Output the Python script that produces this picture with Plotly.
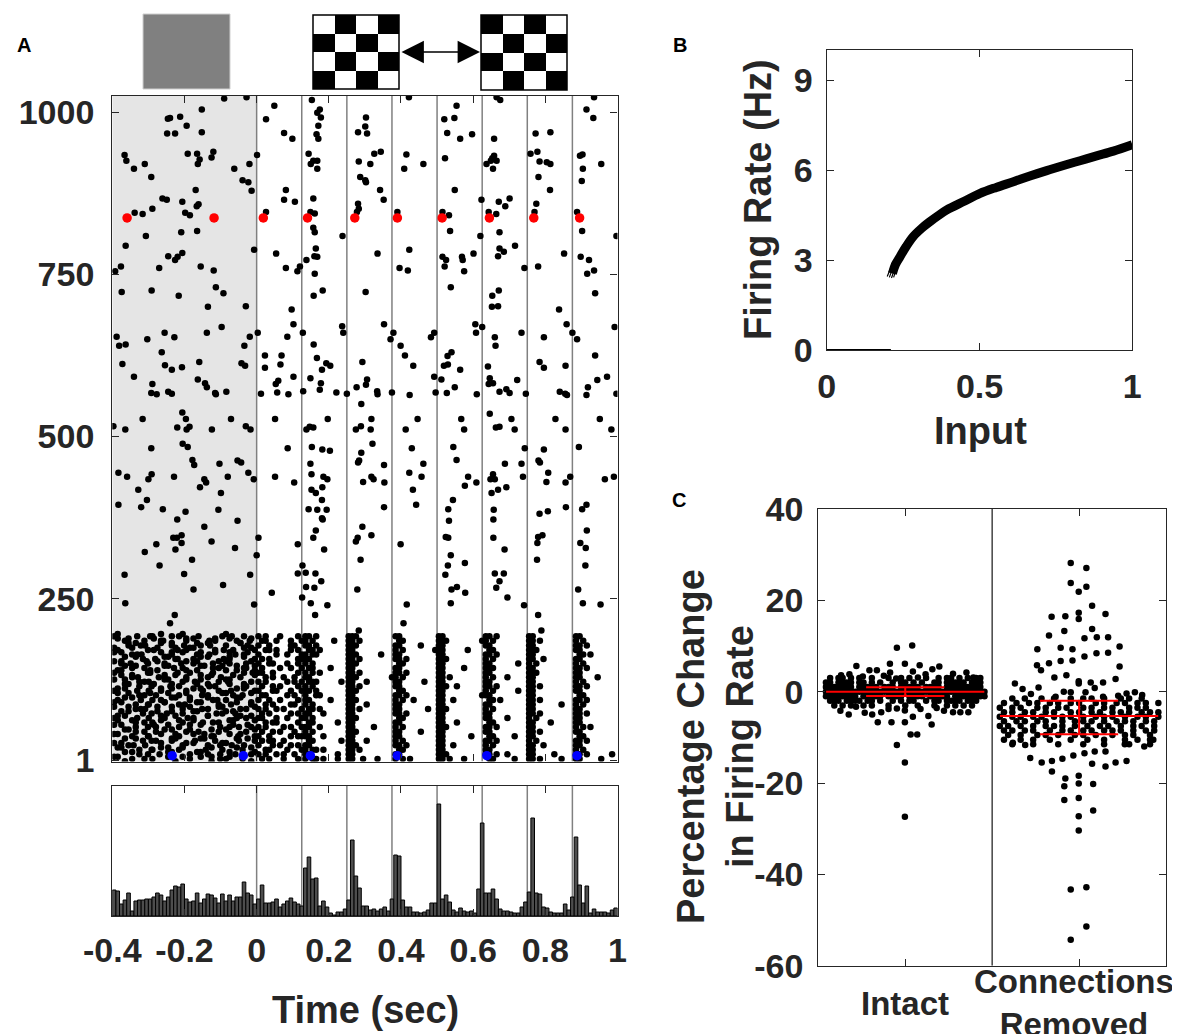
import plotly.graph_objects as go

FIG_W, FIG_H = 1180, 1034
PAGE_OFFSET = 8  # default page margin of the browser, compensated in the layout
FONT = "Liberation Sans, Arial, Helvetica, sans-serif"
INK = "#262626"

# ---------------- Panel A : raster ----------------
TIME_TICKS = [-0.4, -0.2, 0, 0.2, 0.4, 0.6, 0.8, 1.0]
TIME_TICK_TEXT = ["-0.4", "-0.2", "0", "0.2", "0.4", "0.6", "0.8", "1"]
NEURON_TICKS = [1, 250, 500, 750, 1000]
NEURON_TICK_TEXT = ["1", "250", "500", "750", "1000"]
STIM_SWITCH_TIMES = [0, 0.125, 0.25, 0.375, 0.5, 0.625, 0.75, 0.875]
GRAY_PERIOD = [-0.4, 0.0]

# sparse spikes (time s, neuron id) of neurons ~200-1025
SPARSE_SPIKES = [
    (-0.090,1021),(-0.028,1023),(-0.152,1004),(-0.246,990),(-0.240,991),(-0.212,993),(-0.194,979),(-0.248,967),
    (-0.226,967),(-0.152,969),(-0.366,934),(-0.361,925),(-0.340,913),(-0.310,920),(-0.292,900),(-0.191,936),
    (-0.165,936),(-0.158,927),(-0.163,920),(-0.125,930),(-0.120,939),(-0.062,913),(-0.020,920),(0.001,934),
    (-0.039,895),(-0.023,892),(-0.014,879),(-0.169,880),(-0.261,867),(-0.249,865),(-0.206,862),(-0.166,855),
    (-0.161,858),(-0.289,851),(-0.316,843),(-0.338,845),(-0.198,845),(-0.185,841),(-0.307,809),(-0.209,815),
    (-0.165,817),(-0.363,794),(-0.007,788),(-0.245,778),(-0.226,772),(-0.219,777),(-0.206,783),(-0.376,762),
    (-0.392,755),(-0.270,760),(-0.155,762),(-0.119,756),(-0.374,723),(-0.291,725),(-0.216,717),(-0.113,730),
    (-0.092,721),(-0.135,700),(-0.030,701),(-0.097,669),(-0.255,660),(-0.228,653),(-0.138,660),(-0.303,650),
    (-0.388,654),(-0.381,640),(-0.363,642),(-0.019,654),(-0.034,640),(-0.263,630),(-0.372,612),(-0.254,610),
    (-0.235,603),(-0.207,607),(-0.159,615),(-0.042,613),(-0.032,609),(-0.340,592),(-0.289,581),(-0.245,569),
    (-0.235,566),(-0.292,567),(-0.277,565),(-0.163,588),(-0.143,582),(-0.138,576),(-0.115,567),(-0.113,565),
    (-0.084,569),(-0.206,537),(-0.316,527),(-0.196,527),(-0.071,527),
    (0.049,1010),(0.026,989),(0.076,968),(0.099,959),(0.081,880),(0.076,865),(0.106,862),(0.026,846),
    (0.054,782),(0.081,760),(0.113,755),(0.120,762),(0.097,696),(0.102,673),(0.085,654),(0.023,625),
    (0.023,606),(0.069,625),(0.066,611),(0.060,586),(0.053,581),(0.102,592),(0.012,566),(0.057,568),
    (0.088,565),(0.051,527),(0.003,660),
    (0.153,1019),(0.168,999),(0.175,1004),(0.178,992),(0.171,979),(0.166,966),(0.171,959),(0.144,936),
    (0.157,925),(0.150,920),(0.168,925),(0.168,913),(0.157,867),(0.149,846),(0.161,844),(0.157,822),
    (0.161,815),(0.164,790),(0.160,778),(0.168,777),(0.138,772),(0.161,751),(0.183,725),(0.158,717),
    (0.238,809),(0.158,642),(0.167,621),(0.181,603),(0.193,613),(0.204,609),(0.149,590),(0.178,582),
    (0.175,572),(0.129,570),(0.221,568),(0.237,670),(0.240,660),(0.128,660),(0.197,527),
    (0.303,992),(0.301,978),(0.281,969),(0.306,967),(0.326,936),(0.344,939),(0.283,924),(0.315,920),
    (0.287,900),(0.301,895),(0.303,892),(0.342,880),(0.352,865),(0.281,859),(0.283,851),(0.278,846),
    (0.335,782),(0.302,723),(0.353,673),(0.371,650),(0.293,615),(0.306,588),(0.303,580),(0.277,576),
    (0.334,570),(0.335,565),(0.250,566),(0.290,550),(0.318,527),
    (0.422,1023),(0.415,935),(0.409,913),(0.462,920),(0.390,846),(0.423,788),(0.396,760),(0.419,756),
    (0.379,660),(0.399,640),(0.411,625),(0.434,609),(0.375,568),(0.424,564),(0.446,527),(0.483,653),
    (0.492,660),(0.492,592),(0.496,568),
    (0.554,1010),(0.520,989),(0.548,991),(0.528,968),(0.564,959),(0.597,966),(0.522,929),(0.549,880),
    (0.515,846),(0.533,841),(0.536,817),(0.515,777),(0.525,772),(0.521,762),(0.569,777),(0.571,772),
    (0.601,782),(0.575,755),(0.538,730),(0.623,865),(0.620,809),(0.606,673),(0.608,660),(0.540,630),
    (0.529,624),(0.519,609),(0.530,611),(0.564,603),(0.512,588),(0.549,576),(0.527,567),(0.610,565),
    (0.567,527),(0.625,669),
    (0.665,1023),(0.675,1019),(0.658,959),(0.658,933),(0.653,929),(0.649,925),(0.665,925),(0.637,920),
    (0.655,913),(0.701,867),(0.689,855),(0.671,862),(0.643,846),(0.664,843),(0.673,815),(0.673,790),
    (0.685,785),(0.669,778),(0.716,794),(0.742,760),(0.671,725),(0.653,717),(0.652,700),(0.669,701),
    (0.660,653),(0.662,640),(0.734,660),(0.641,608),(0.646,590),(0.655,582),(0.643,581),(0.673,569),
    (0.692,573),(0.701,567),(0.722,587),(0.646,535),(0.706,527),(0.746,566),
    (0.773,967),(0.814,969),(0.759,936),(0.778,939),(0.784,924),(0.804,923),(0.814,920),(0.781,900),
    (0.813,880),(0.775,859),(0.770,846),(0.852,782),(0.780,762),(0.838,696),(0.859,673),(0.796,653),
    (0.856,609),(0.784,615),(0.796,606),(0.840,569),(0.855,566),(0.860,564),(0.828,527),(0.875,660),
    (0.935,1023),(0.914,1004),(0.933,991),(0.903,935),(0.896,933),(0.955,920),(0.904,913),(0.901,894),
    (0.888,846),(0.902,817),(0.898,777),(0.921,772),(0.916,751),(0.935,756),(0.938,721),(0.997,809),
    (0.992,669),(0.888,650),(0.938,625),(0.918,576),(0.914,564),(0.971,592),(0.944,587),(0.997,566),
    (0.951,527),
    (-0.397,516),(-0.364,511),(-0.220,514),(-0.194,511),(-0.186,515),(-0.124,511),(-0.030,516),(-0.017,511),
    (-0.292,482),(-0.205,489),(-0.191,484),(-0.178,464),(-0.173,456),(-0.103,458),(-0.053,463),(-0.043,460),
    (-0.383,444),(-0.359,438),(-0.300,434),(-0.291,442),(-0.229,438),(-0.145,434),(-0.140,429),(-0.157,422),
    (-0.080,438),(-0.023,444),(-0.008,434),(-0.328,418),(-0.304,402),(-0.099,413),(-0.383,395),(-0.320,391),
    (-0.260,388),(-0.197,384),(-0.106,387),(-0.220,372),(-0.053,370),(-0.145,361),(-0.231,344),(-0.221,344),
    (-0.208,348),(-0.208,336),(-0.278,334),(-0.310,322),(-0.225,326),(-0.125,338),(-0.060,328),(-0.179,310),
    (-0.269,301),(-0.366,287),(-0.201,288),(-0.018,287),(-0.093,271),(-0.175,264),(-0.364,243),(-0.007,241),
    (-0.227,225),(-0.240,212),
    (0.051,438),(0.086,482),(0.104,429),(0.005,344),(0.000,317),(0.114,334),(0.127,301),(0.114,289),
    (0.042,259),(0.126,252),
    (0.138,511),(0.147,515),(0.157,514),(0.153,484),(0.182,480),(0.203,478),(0.149,458),(0.152,442),
    (0.185,438),(0.196,434),(0.152,418),(0.164,413),(0.182,422),(0.181,402),(0.144,388),(0.168,387),
    (0.194,387),(0.181,374),(0.183,372),(0.164,355),(0.157,344),(0.187,326),(0.136,290),(0.163,289),
    (0.179,277),(0.137,268),(0.160,267),(0.150,243),(0.196,240),(0.162,225),
    (0.275,511),(0.289,516),(0.316,511),(0.321,489),(0.290,475),(0.284,463),(0.281,460),(0.353,456),
    (0.295,430),(0.318,438),(0.324,434),(0.354,429),(0.353,391),(0.293,361),(0.318,348),(0.280,344),
    (0.275,338),(0.288,310),(0.279,264),(0.283,201),
    (0.413,511),(0.430,482),(0.462,458),(0.423,444),(0.457,438),(0.433,418),(0.442,395),(0.399,334),
    (0.416,241),(0.407,212),
    (0.575,511),(0.545,484),(0.554,464),(0.586,438),(0.609,429),(0.577,424),(0.544,402),(0.531,388),
    (0.533,370),(0.524,345),(0.531,344),(0.538,317),(0.530,301),(0.577,305),(0.523,287),(0.540,264),
    (0.555,268),(0.578,259),(0.538,243),
    (0.663,514),(0.673,515),(0.715,511),(0.743,482),(0.688,458),(0.734,458),(0.655,442),(0.648,434),
    (0.660,434),(0.738,438),(0.669,418),(0.692,422),(0.651,413),(0.657,387),(0.656,372),(0.656,344),
    (0.687,326),(0.660,289),(0.685,289),(0.673,277),(0.664,267),(0.695,252),(0.741,240),
    (0.796,480),(0.781,463),(0.785,460),(0.808,444),(0.803,430),(0.856,429),(0.856,511),(0.784,381),
    (0.807,385),(0.857,391),(0.780,345),(0.792,348),(0.778,336),(0.777,310),(0.780,225),(0.789,201),
    (0.893,484),(0.869,438),(0.965,434),(0.990,438),(0.902,388),(0.914,395),(0.915,355),(0.897,336),
    (0.912,328),(0.911,301),(0.891,264),(0.904,243),(0.953,241),(0.983,511),
]

RED_NEURON = 837
RED_SPIKE_TIMES = [-0.359, -0.118, 0.0185, 0.141, 0.272, 0.390, 0.514, 0.645, 0.768, 0.895]
BLUE_NEURON = 8
BLUE_SPIKE_TIMES = [-0.234, -0.037, 0.149, 0.390, 0.638, 0.888]

# dense population (neurons 1-195): occupancy map, one row per neuron band,
# one character per 10 ms bin. '#' spike at bin centre; u/d = spike a half band
# higher/lower, l/r = spike slightly earlier/later. Segments between stimulus switches.
DENSE_T0 = -0.4
DENSE_BIN = 0.01
DENSE_GLYPH_OFFSET = {"#": (0.0, 0.0), "u": (0.0, 3.5), "d": (0.0, -3.5),
                      "l": (-0.004, 0.0), "r": (0.004, 0.0)}
DENSE_ROW_NEURONS = [192, 185, 178, 171, 164, 157, 150, 143, 136, 129, 122, 115, 108, 101,
                     94, 87, 80, 73, 66, 59, 52, 45, 38, 31, 24, 17, 10, 3]
DENSE_SEG_START_BINS = [0, 40, 53, 65, 78, 90, 103, 115, 128]
DENSE_SEG_WIDTHS = [40, 13, 12, 13, 12, 13, 12, 13, 12]
DENSE_ROWS = [
    "#u..d.r...#l.u..#.#ud..r....d.#u.l..#.d.|#.#...#....#.|##.#........|###..........|##..........|##...........|##.#........|##...........|##..........",
    ".u.#d...r..u.#l.d...#.ud..r.#...u.#d..l.|.##..#...#..#|#.#.....#...|##.#.........|.##.........|###.........#|#.#.........|##.#.........|#.#.........",
    "d...#.ur.l...u..#d.r..d.#.ul...#...u.#d.|#..#.....##..|##.#........|###..........|##.....#....|##...........|##..........|##...........|##.#........",
    ".#d..u...r.#u...d.l.#u..d...#.r.d#..u..#|..##.#...#.#.|.##.#.......|##...........|#.#........#|##......#....|.##.........|###..........|##..........",
    "u..d.#r.l....ud.#..u...#d.r.u...d.l.#u..|#....#..#...#|#.##........|###......#...|##..........|##...........|##.#........|##...........|.##.#.......",
    "..d...u.#d.r...u.#l.d.#...u..dr.#...u.d#|.#.#.......##|##..........|##.#.........|##.#........|###..........|#.#.........|##..#........|##..........",
    "u.#d.l...r..u.#d...l..#u.d.r...u#.d..l..|#..##...#..#.|#.#.........|###..........|.##.........|##...........|##.......#..|#.#..........|#.#.........",
    ".d...#u.r.d...u..l.#d...u..r.#u...d.#l.u|.#....#..#..#|.##....#....|##...........|##..........|##.....#.....|###.........|##...........|##.#........",
    "#.u..d...r#.u.d...l..#.ud..r...u.d..#.ru|##..#......#.|#.#.#.......|##.#.........|##.#........|##...........|##..........|###..........|##..........",
    "..ud.#.l....r.#d.u..#...d.#u..l.d..#...u|..#.#..#..#..|##..........|###.........#|#.#.........|##.#.........|#.#...#.....|##...........|##....#.....",
    "u...d..#r.l...u.d..#u.r...d..#.ul...d.#.|#.#.....#.#.#|.###......#.|##...#.......|##......#...|##...........|##..........|##...........|#.#.........",
    ".d.u...#..ru.d..l.#....ud.r.#...u.d.#l..|.#..#.#....#.|#.#.........|##.#.........|##..........|###..#.......|##.#........|##.#.........|##.#........",
    "#..ud.r...l..#.du...#.u..l...#d.r...u..#|#...##...#..#|##.#........|###..........|.##.........|##...........|#.#......#..|##...........|##..........",
    ".u...d.#r.u.l...d.#.ud..r.#....u.#d.l.u.|.##.....#.#..|#..##.......|##...........|##.#........|##..........#|##..........|##...........|.##.........",
    "d#.u...r...l.#d..u...#.d..ur.l.#...u..d.|#..#..#....#.|##.....#....|###..........|#.#..#......|##..#........|.##.#.......|##.#.........|##.#........",
    "..u.d.#..rl...u.d.#.l...u....#d.r.u...#d|..#.#....##..|#.#.........|##...#.......|##..........|##...........|##..........|##.......#...|#.#.........",
    "u.d...#r.l..u...d..#.ud.r.#..u...d.#.l..|#.#..#.#....#|.##.#.......|##.#.........|##.......#..|###..........|#.#.........|##...........|##..........",
    ".d..u...#.r.ud.l...#...u..d.r.#u..l...d.|.#.#.....#.#.|##...#......|##...........|##.#........|##...........|##..........|##.#.........|##.#........",
    "#..u.dr...l...#..ud.r.#...u.....d.#u.l.d|##...#..#...#|#.#.........|###..........|.##.........|##...........|##....#.....|#.#..........|##..........",
    ".ud...#.r..l.u.d...#..u.dl.r.#...u...d..|..#.##.....#.|.##......#..|##...........|##..........|##...#.......|.##.........|##....#......|##..........",
    "u...d.#..r.ul...d.#..u.....d.r..#u.l..#d|#.#....#.#..#|##..#.......|##.....#.....|#.#.........|###..........|##.#........|##...........|#.#.#.......",
    ".d.u..#.r...l.u..d..#u.r.d...#.u...d.l..|.#..#.#...#..|#.#.........|###..........|##.....#....|##...........|##..........|##.#.........|##..........",
    "u..d.#...rl..u..d.#...u..d.#l...u.r..d.#|#..#.....#.##|##...#......|##...........|##..........|##.......#...|.##.....#...|##...........|.##.........",
    "..d...u.#.r.l...#u..d.r.u...#.d...ul...#|.#.##..#.....|.##.......#.|##...#.......|#.#.........|##...........|##.#........|#.#..........|##.#........",
    "u.d.#r...l...u.d...#..u...#d.r.u.l..#.d.|#...#.#..#.#.|##..........|###..........|##.#........|##..#........|#.#.........|##..#........|##..........",
    ".u...d.#..rl.u..d.#u...d.r....#...u.l..d|..##....#...#|#.##.#......|##.#.........|.##.........|##...........|##..........|##...........|#.#.........",
    "d..u...#.r...l.u...d.#..u.#d.r..u.l...#.|#.#..#.#..#..|##.......#..|##...........|##..........|###..........|##.#..#.....|##.....#.....|##.#......#.",
    ".u.d.#..r..l...u.d...#..u..d.r.#u...l.d.|.#.#...#...#.|#.##.#...#..|##..#...#....|#.#.#.......|##.#...#.....|.##.....#...|##.#.....#...|##.....#....",
]

# population histogram (10 ms bins from -0.4 s)
HIST_T0 = -0.4
HIST_BIN = 0.01
HIST_COUNTS = [
    26, 25, 12, 16, 23, 5, 15, 16, 16, 17,
    17, 19, 23, 21, 15, 19, 26, 30, 29, 32,
    17, 14, 15, 23, 13, 17, 22, 21, 18, 13,
    22, 15, 21, 15, 19, 19, 34, 23, 21, 12,
    17, 31, 13, 13, 14, 17, 9, 12, 15, 18, 14, 12, 10,
    48, 59, 37, 38, 10, 15, 9, 3, 1, 4, 4, 7,
    16, 76, 40, 28, 10, 10, 6, 7, 5, 7, 9, 5, 17,
    61, 60, 16, 9, 9, 4, 4, 3, 4, 6, 13, 13,
    112, 17, 21, 14, 6, 4, 8, 5, 4, 5, 3, 27,
    93, 23, 23, 27, 17, 7, 5, 5, 4, 3, 3, 9, 14,
    24, 98, 23, 22, 9, 8, 4, 3, 3, 3, 12, 6, 19,
    79, 31, 13, 30, 3, 7, 4, 4, 4, 3, 6, 8,
]
HIST_YMAX = 130

# stimulus icons
CHECKER_LEFT = [[0, 1, 0, 1], [1, 0, 1, 0], [0, 1, 0, 1], [1, 0, 1, 0]]
CHECKER_RIGHT = [[1, 0, 1, 0], [0, 1, 0, 1], [1, 0, 1, 0], [0, 1, 0, 1]]

# ---------------- Panel B : f-I curve ----------------
FI_INPUT = [0.215, 0.225, 0.24, 0.26, 0.283, 0.31, 0.338, 0.365, 0.393, 0.45, 0.502,
            0.555, 0.611, 0.665, 0.72, 0.775, 0.829, 0.883, 0.938, 1.0]
FI_RATE = [2.55, 2.85, 3.11, 3.45, 3.78, 4.05, 4.28, 4.48, 4.67, 4.96, 5.22,
           5.42, 5.61, 5.80, 5.98, 6.15, 6.31, 6.47, 6.63, 6.84]
FI_FAN_INPUT = [[0.198, 0.212, 0.235], [0.205, 0.218, 0.24], [0.212, 0.224, 0.245], [0.219, 0.23, 0.25]]
FI_FAN_RATE = [[2.45, 2.8, 3.2], [2.42, 2.78, 3.18], [2.40, 2.76, 3.16], [2.42, 2.78, 3.15]]
FI_SUBTHRESHOLD_INPUT = [0.0, 0.21]
FI_SUBTHRESHOLD_RATE = [0.0, 0.0]

# ---------------- Panel C : % change in firing rate ----------------
GROUPS = ["Intact", "Connections<br>Removed"]
GROUP_X = [1, 2]
SWARM_X0 = -0.456
SWARM_DX = 0.024
INTACT_BAND_Y = [3, 2, 1, 0, -1, -2, -3]
INTACT_BAND = [
    ".#.##.#.#..#...#..#.#...#..#.##.#.#.##.",
    "##.####.##.#.#..#.##.#.#..##.#####.###.",
    "#######.#####.###.#####.####.#########",
    "#######################################",
    "########.#####.####.####.#####.########",
    ".###.####.##.#..#.#.##..#.##.####.###.",
    "..#.#.#..#.#...#...#..#...#..#.#.#.#..",
]
INTACT_SCATTER = [
    (-0.048, 9.6), (0.040, 10.1), (-0.281, 5.6), (-0.206, 4.7), (-0.163, 4.7), (-0.088, 6.1),
    (-0.002, 6.1), (0.083, 5.8), (0.156, 4.9), (0.196, 5.5), (-0.369, 3.6), (-0.321, 3.8),
    (-0.123, 3.5), (-0.087, 4.2), (-0.052, 2.9), (0.044, 4.4), (0.073, 3.1), (0.117, 3.8),
    (0.275, 3.9), (0.352, 4.2), (0.392, 3.1), (-0.244, 3.3),
    (-0.373, -4.2), (-0.325, -5.0), (-0.233, -4.6), (-0.190, -5.0), (-0.158, -6.7), (-0.079, -6.7),
    (-0.002, -6.7), (0.044, -5.5), (0.133, -5.3), (0.152, -7.2), (-0.138, -4.5), (-0.096, -3.8),
    (-0.048, -3.7), (-0.002, -4.1), (0.088, -3.8), (0.181, -3.6), (0.223, -4.2), (0.275, -4.5),
    (0.317, -4.5), (0.363, -4.5), (-0.283, -3.3), (-0.048, -11.7), (-0.002, -15.5), (0.031, -9.4),
    (0.069, -9.4), (-0.002, -27.4),
]
REMOVED_CLOUD_Y = [-1.5, -2.5, -3.5, -4.5, -5.5, -6.5, -7.5, -8.5, -9.5, -10.5, -11.5]
REMOVED_CLOUD = [
    "...#..#...#..#...#..#.#..#...#.#..#....",
    ".#..#..#.#..#.#..#.#...#.#..#.#..#.#..#",
    "#..#.#...#.#..#.#...#.#..#.#...#.#.#...",
    ".#.#..#.#..#.#...#.#..#.#..#.#.#..#.#.#",
    "#..#.#..#.#..#.#.#..#..#.#.#..#..#.#..#",
    ".#..#.#..#.#...#..#.#.#..#..#.#.#..#.#.",
    "#.#..#..#..#.#.#..#..#..#.#..#..#.#..#.",
    ".#.#..#.#...#..#.#..#.#..#.#.#..#..#.#.",
    "..#..#...#.#..#...#.#..#...#..#.#...#..",
    ".#...#..#...#....#...#...#....#..#..#..",
    "...#....#.....#.....#....#.....#....#..",
]
REMOVED_SCATTER = [
    (-0.048, 28.2), (0.042, 27.1), (-0.048, 23.8), (0.042, 23.0), (-0.002, 21.9), (0.075, 18.8),
    (-0.002, 17.3), (-0.079, 16.5), (-0.158, 16.4), (-0.002, 15.9), (0.152, 17.0), (0.075, 13.7),
    (-0.085, 13.3), (-0.173, 12.3), (0.031, 11.7), (0.102, 11.9), (0.167, 11.9), (-0.240, 9.3),
    (-0.106, 9.6), (-0.038, 9.3), (0.233, 9.9), (0.031, 7.7), (0.100, 8.4), (0.167, 8.5),
    (-0.242, 5.8), (-0.219, 4.7), (-0.173, 6.2), (-0.106, 6.7), (-0.038, 6.8), (0.233, 5.5),
    (-0.142, 3.1), (-0.073, 3.6), (-0.002, 2.3), (-0.002, 1.8), (0.067, 2.0), (0.138, 2.0),
    (0.210, 2.8), (-0.369, 1.8), (-0.325, 0.6), (-0.277, -0.5), (-0.233, 0.9), (-0.135, -1.1),
    (-0.088, 0.0), (-0.048, -0.1), (0.037, -0.1), (0.090, 0.8), (0.138, -1.1), (0.225, -0.9),
    (0.273, -0.4), (0.321, -0.1), (0.363, -0.7),
    (-0.281, -14.5), (-0.215, -15.5), (-0.156, -15.2), (-0.096, -14.7), (-0.033, -14.0), (0.031, -13.5),
    (0.090, -13.1), (0.075, -15.8), (0.152, -13.1), (0.152, -16.4), (0.210, -15.5), (0.273, -15.2),
    (-0.156, -17.5), (-0.079, -19.0), (-0.085, -20.7), (-0.002, -18.4), (-0.002, -20.1), (0.081, -20.2),
    (-0.085, -23.7), (-0.002, -23.3), (-0.002, -27.3), (-0.002, -30.4), (0.081, -26.0), (-0.048, -43.3),
    (0.042, -42.8), (0.042, -51.4), (-0.048, -54.3), (-0.310, -11.7), (-0.381, -11.2), (0.263, -11.5),
    (0.375, -12.0), (0.427, -10.5),
]
GROUP_CENTER = [0.0, -5.3]
GROUP_LOW = [-0.95, -9.3]
GROUP_HIGH = [0.95, -2.0]
C_YTICKS = [-60, -40, -20, 0, 20, 40]
C_YTICK_TEXT = ["-60", "-40", "-20", "0", "20", "40"]
B_XTICKS = [0, 0.5, 1]
B_XTICK_TEXT = ["0", "0.5", "1"]
B_YTICKS = [0, 3, 6, 9]


# ---------------- helpers ----------------
def fx(p):
    return (p - PAGE_OFFSET) / FIG_W


def fy(p):
    return 1 - (p - PAGE_OFFSET) / FIG_H


dense_t, dense_n = [], []
for r, row in enumerate(DENSE_ROWS):
    segs = [s.replace(" ", "") for s in row.split("|")]
    for j, seg in enumerate(segs):
        start = DENSE_SEG_START_BINS[j]
        for i, ch in enumerate(seg[:DENSE_SEG_WIDTHS[j]]):
            if ch in DENSE_GLYPH_OFFSET:
                dt, dn = DENSE_GLYPH_OFFSET[ch]
                dense_t.append(DENSE_T0 + DENSE_BIN * (start + i + 0.5) + dt)
                dense_n.append(DENSE_ROW_NEURONS[r] + dn)

sp_t = [p[0] for p in SPARSE_SPIKES]
sp_n = [p[1] for p in SPARSE_SPIKES]
hist_x = [HIST_T0 + HIST_BIN * (i + 0.5) for i in range(len(HIST_COUNTS))]


def grid_points(rows, row_vals, center):
    xs, ys = [], []
    for yv, row in zip(row_vals, rows):
        for i, ch in enumerate(row):
            if ch == "#":
                xs.append(center + SWARM_X0 + SWARM_DX * i)
                ys.append(yv)
    return xs, ys


ix, iy = grid_points(INTACT_BAND, INTACT_BAND_Y, GROUP_X[0])
ix += [GROUP_X[0] + d for d, _ in INTACT_SCATTER]
iy += [v for _, v in INTACT_SCATTER]
rx, ry = grid_points(REMOVED_CLOUD, REMOVED_CLOUD_Y, GROUP_X[1])
rx += [GROUP_X[1] + d for d, _ in REMOVED_SCATTER]
ry += [v for _, v in REMOVED_SCATTER]

LONG_HALF, SHORT_HALF = 0.455, 0.225
stat_x, stat_y = [], []
for cx, m, lo, hi in zip(GROUP_X, GROUP_CENTER, GROUP_LOW, GROUP_HIGH):
    stat_x += [cx - LONG_HALF, cx + LONG_HALF, None, cx - SHORT_HALF, cx + SHORT_HALF, None,
               cx - SHORT_HALF, cx + SHORT_HALF, None, cx, cx, None]
    stat_y += [m, m, None, lo, lo, None, hi, hi, None, lo, hi, None]

fig = go.Figure()
DOT = 6.5
fig.add_trace(go.Scatter(x=dense_t, y=dense_n, mode="markers", xaxis="x", yaxis="y",
                         marker=dict(size=DOT, color="black", line=dict(width=0)), hoverinfo="skip"))
fig.add_trace(go.Scatter(x=sp_t, y=sp_n, mode="markers", xaxis="x", yaxis="y",
                         marker=dict(size=DOT, color="black", line=dict(width=0)), hoverinfo="skip"))
fig.add_trace(go.Scatter(x=RED_SPIKE_TIMES, y=[RED_NEURON] * len(RED_SPIKE_TIMES), mode="markers",
                         xaxis="x", yaxis="y", marker=dict(size=9.5, color="#ff0000", line=dict(width=0))))
fig.add_trace(go.Scatter(x=BLUE_SPIKE_TIMES, y=[BLUE_NEURON] * len(BLUE_SPIKE_TIMES), mode="markers",
                         xaxis="x", yaxis="y", marker=dict(size=9.5, color="#0000ff", line=dict(width=0))))

fig.add_trace(go.Bar(x=hist_x, y=HIST_COUNTS, width=HIST_BIN, xaxis="x2", yaxis="y2",
                     marker=dict(color="#4d4d4d", line=dict(color="black", width=1))))

fig.add_trace(go.Scatter(x=FI_SUBTHRESHOLD_INPUT, y=FI_SUBTHRESHOLD_RATE, mode="lines",
                         xaxis="x3", yaxis="y3", line=dict(color="black", width=2)))
for fxs, fys in zip(FI_FAN_INPUT, FI_FAN_RATE):
    fig.add_trace(go.Scatter(x=fxs, y=fys, mode="lines", xaxis="x3", yaxis="y3",
                             line=dict(color="black", width=1.2)))
fig.add_trace(go.Scatter(x=FI_INPUT, y=FI_RATE, mode="lines", xaxis="x3", yaxis="y3",
                         line=dict(color="black", width=9, shape="spline")))

fig.add_trace(go.Scatter(x=ix, y=iy, mode="markers", xaxis="x4", yaxis="y4",
                         marker=dict(size=DOT, color="black", line=dict(width=0))))
fig.add_trace(go.Scatter(x=rx, y=ry, mode="markers", xaxis="x4", yaxis="y4",
                         marker=dict(size=DOT, color="black", line=dict(width=0))))
fig.add_trace(go.Scatter(x=stat_x, y=stat_y, mode="lines", xaxis="x4", yaxis="y4",
                         line=dict(color="#ff0000", width=2)))

CS = [[0, "white"], [1, "black"]]
fig.add_trace(go.Heatmap(z=CHECKER_LEFT, colorscale=CS, zmin=0, zmax=1, showscale=False,
                         xaxis="x5", yaxis="y5", hoverinfo="skip"))
fig.add_trace(go.Heatmap(z=CHECKER_RIGHT, colorscale=CS, zmin=0, zmax=1, showscale=False,
                         xaxis="x6", yaxis="y6", hoverinfo="skip"))

tick_font = dict(family=FONT, size=34, color=INK, weight="bold")
axis_common = dict(showline=True, linecolor=INK, linewidth=1.3, mirror="ticks", ticks="inside",
                   ticklen=7, tickwidth=1.2, tickcolor=INK, showgrid=False, zeroline=False,
                   tickfont=tick_font, automargin=False)

RAS_X = [fx(112.3), fx(617.5)]
layout = dict(
    width=FIG_W, height=FIG_H, margin=dict(l=0, r=0, t=0, b=0, autoexpand=False), autosize=False,
    paper_bgcolor="white", plot_bgcolor="white", showlegend=False,
    font=dict(family=FONT, color=INK),
    xaxis=dict(domain=RAS_X, anchor="y", range=[-0.4, 1.0], tickvals=TIME_TICKS,
               showticklabels=False, **axis_common),
    yaxis=dict(domain=[fy(761.5), fy(96)], anchor="x", range=[-1, 1025], tickvals=NEURON_TICKS,
               ticktext=NEURON_TICK_TEXT, ticklabelstandoff=10, **axis_common),
    xaxis2=dict(domain=RAS_X, anchor="y2", range=[-0.4, 1.0], tickvals=TIME_TICKS,
                ticktext=TIME_TICK_TEXT, ticklabelstandoff=4, **axis_common),
    yaxis2=dict(domain=[fy(916), fy(786)], anchor="x2", range=[0, HIST_YMAX], showline=True,
                linecolor=INK, linewidth=1.3, mirror=True, ticks="", showticklabels=False,
                showgrid=False, zeroline=False, automargin=False),
    xaxis3=dict(domain=[fx(826.7), fx(1132.3)], anchor="y3", range=[0, 1], tickvals=B_XTICKS,
                ticktext=B_XTICK_TEXT, ticklabelstandoff=6, **axis_common),
    yaxis3=dict(domain=[fy(350), fy(50)], anchor="x3", range=[0, 10], tickvals=B_YTICKS,
                ticklabelstandoff=6, **axis_common),
    xaxis4=dict(domain=[fx(818.3), fx(1166)], anchor="y4", range=[0.5, 2.5], tickvals=GROUP_X,
                showticklabels=False, **axis_common),
    yaxis4=dict(domain=[fy(965.7), fy(509)], anchor="x4", range=[-60, 40], tickvals=C_YTICKS,
                ticktext=C_YTICK_TEXT, ticklabelstandoff=7, **axis_common),
    xaxis5=dict(domain=[fx(313), fx(399)], anchor="y5", visible=False, range=[-0.5, 3.5], automargin=False),
    yaxis5=dict(domain=[fy(89), fy(15)], anchor="x5", visible=False, range=[3.5, -0.5], automargin=False),
    xaxis6=dict(domain=[fx(481), fx(567)], anchor="y6", visible=False, range=[-0.5, 3.5], automargin=False),
    yaxis6=dict(domain=[fy(90), fy(15)], anchor="x6", visible=False, range=[3.5, -0.5], automargin=False),
)

shapes = [dict(type="rect", xref="x", yref="y", x0=GRAY_PERIOD[0], x1=GRAY_PERIOD[1], y0=-1, y1=1025,
               fillcolor="#e5e5e5", line=dict(width=0), layer="below")]
for t in STIM_SWITCH_TIMES:
    shapes.append(dict(type="line", xref="x", yref="y", x0=t, x1=t, y0=-1, y1=1025,
                       line=dict(color="#808080", width=1.5), layer="below"))
    shapes.append(dict(type="line", xref="x2", yref="y2", x0=t, x1=t, y0=0, y1=HIST_YMAX,
                       line=dict(color="#808080", width=1.5), layer="below"))
shapes.append(dict(type="line", xref="x4", yref="y4", x0=1.5, x1=1.5, y0=-60, y1=40,
                   line=dict(color=INK, width=1.3)))
shapes.append(dict(type="rect", xref="paper", yref="paper", x0=fx(143), x1=fx(230), y0=fy(89), y1=fy(14),
                   fillcolor="#808080", line=dict(color="#cfcfcf", width=1)))
shapes.append(dict(type="rect", xref="paper", yref="paper", x0=fx(313), x1=fx(399), y0=fy(89), y1=fy(15),
                   line=dict(color="black", width=1.5)))
shapes.append(dict(type="rect", xref="paper", yref="paper", x0=fx(481), x1=fx(567), y0=fy(90), y1=fy(15),
                   line=dict(color="black", width=1.5)))
layout["shapes"] = shapes

title_font = dict(family=FONT, size=38, color=INK, weight="bold")
letter_font = dict(family=FONT, size=20, color="black", weight="bold")
ann = [
    dict(text="Time (sec)", x=fx(365), y=fy(1010), xref="paper", yref="paper", showarrow=False,
         xanchor="center", yanchor="middle", font=title_font),
    dict(text="Input", x=fx(980), y=fy(431), xref="paper", yref="paper", showarrow=False,
         xanchor="center", yanchor="middle", font=title_font),
    dict(text="Firing Rate (Hz)", x=fx(758), y=fy(200), xref="paper", yref="paper", showarrow=False,
         xanchor="center", yanchor="middle", textangle=-90, font=title_font),
    dict(text="Percentage Change<br>in Firing Rate", x=fx(715), y=fy(747), xref="paper", yref="paper",
         showarrow=False, xanchor="center", yanchor="middle", textangle=-90, font=title_font),
    dict(text="A", x=fx(24), y=fy(45), xref="paper", yref="paper", showarrow=False,
         xanchor="center", yanchor="middle", font=letter_font),
    dict(text="B", x=fx(680), y=fy(45), xref="paper", yref="paper", showarrow=False,
         xanchor="center", yanchor="middle", font=letter_font),
    dict(text="C", x=fx(679), y=fy(500), xref="paper", yref="paper", showarrow=False,
         xanchor="center", yanchor="middle", font=letter_font),
    dict(text="", x=fx(480), y=fy(52), xref="paper", yref="paper", ax=-80, ay=0,
         showarrow=True, arrowhead=2, arrowside="end+start", arrowsize=2.8, arrowwidth=1.6,
         arrowcolor="black", startarrowhead=2, startarrowsize=2.8),
]
group_font = dict(family=FONT, size=33, color=INK, weight="bold")
for gx, gname, shift in zip(GROUP_X, GROUPS, [0, -5]):
    ann.append(dict(text=gname, x=gx, y=fy(1003), xref="x4", yref="paper", showarrow=False,
                    xanchor="center", yanchor="middle", xshift=shift, font=group_font))
layout["annotations"] = ann

fig.update_layout(**layout)
fig.write_html("out.html")
